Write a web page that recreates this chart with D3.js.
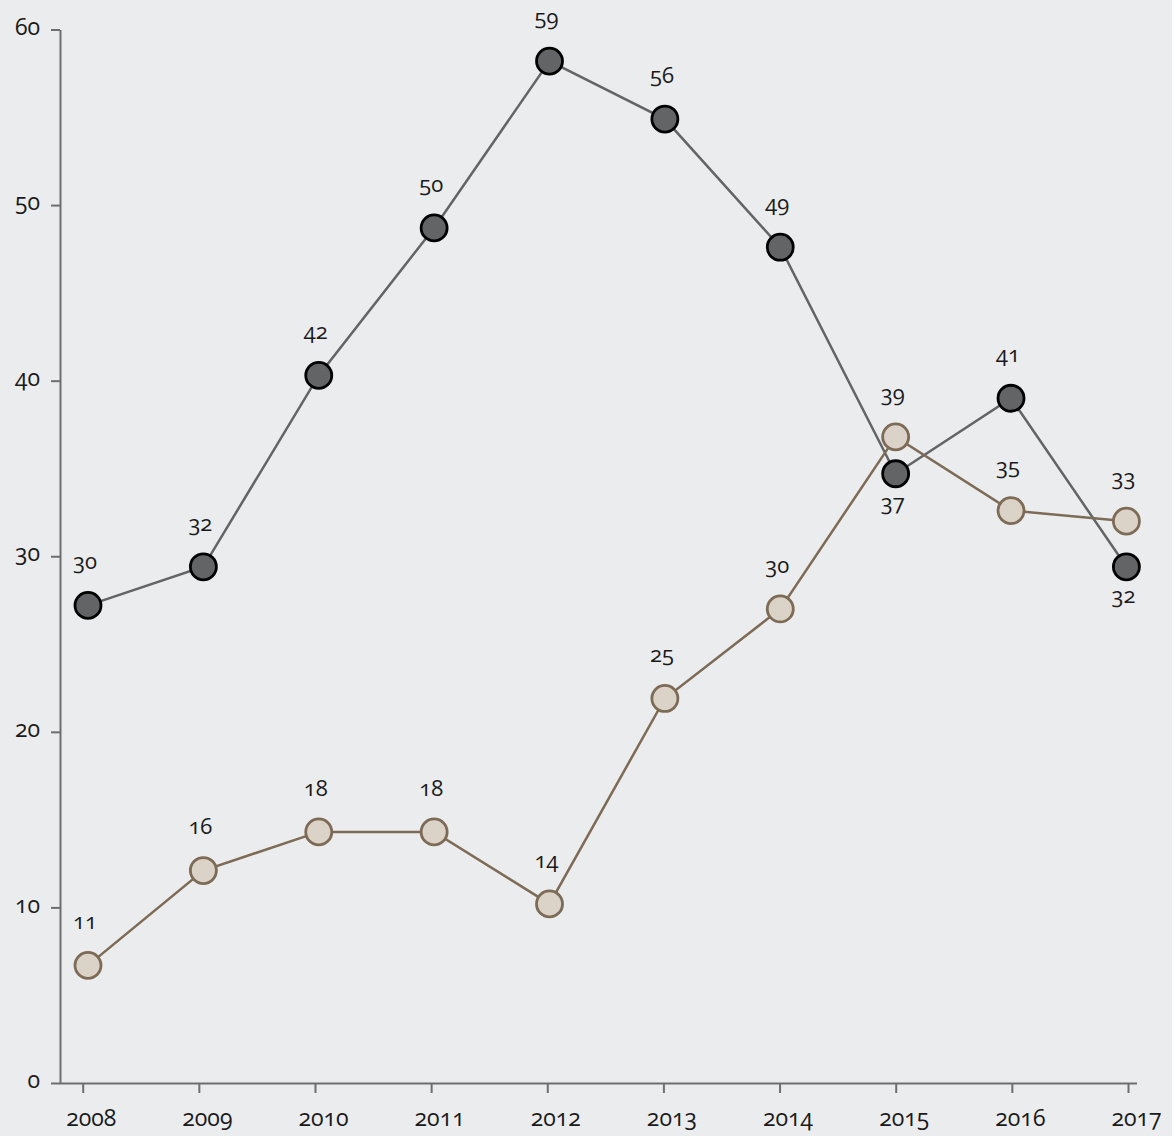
<!DOCTYPE html>
<html>
<head>
<meta charset="utf-8">
<script src="https://cdn.jsdelivr.net/npm/d3@7"></script>
<style>
  html, body { margin: 0; padding: 0; background: #ebecee; }
  svg { display: block; }
  text { font-family: "Open Sans", "Lato", sans-serif; font-variant-numeric: oldstyle-nums; font-feature-settings: "onum" 1; fill: #1a1a1a; }
</style>
</head>
<body>
<svg id="chart" width="1172" height="1136"></svg>
<script>
const years = ["2008","2009","2010","2011","2012","2013","2014","2015","2016","2017"];
const yTicks = [0, 10, 20, 30, 40, 50, 60];

const darkValues = [27.2, 29.4, 40.3, 48.7, 58.2, 54.9, 47.6, 34.7, 39.0, 29.4];
const darkLabels = ["30","32","42","50","59","56","49","37","41","32"];
const darkLabelSide = ["above","above","above","above","above","above","above","below","above","below"];

const lightValues = [6.7, 12.1, 14.3, 14.3, 10.2, 21.9, 27.0, 36.8, 32.6, 32.0];
const lightLabels = ["11","16","18","18","14","25","30","39","35","33"];
const lightLabelSide = ["above","above","above","above","above","above","above","above","above","above"];

const svg = d3.select("#chart");

const y = d3.scaleLinear().domain([0, 60]).range([1083, 29.5]);
const xTick = d3.scalePoint().domain(years).range([82.7, 1128]);
const xPt = d3.scalePoint().domain(years).range([88, 1126.4]);

// axes
const axisColor = "#6d6e70";
const yAxis = svg.append("g").attr("transform", `translate(60,0)`)
  .call(d3.axisLeft(y).tickValues(yTicks).tickSize(9).tickSizeOuter(0).tickPadding(11));
yAxis.select(".domain").attr("stroke", axisColor).attr("stroke-width", 2);
yAxis.selectAll(".tick line").attr("stroke", axisColor).attr("stroke-width", 2);
yAxis.selectAll(".tick text").attr("font-size", 23).attr("fill", "#1a1a1a").attr("dy", "0.2em");

const xAxis = svg.append("g").attr("transform", `translate(0,1083)`)
  .call(d3.axisBottom(xTick).tickSize(10).tickSizeOuter(0).tickPadding(17));
xAxis.select(".domain").attr("d", "M60,0.5H1137").attr("stroke", axisColor).attr("stroke-width", 2);
xAxis.selectAll(".tick line").attr("stroke", axisColor).attr("stroke-width", 2);
xAxis.selectAll(".tick text").attr("font-size", 23).attr("fill", "#1a1a1a").attr("dx", 8);

function drawSeries(values, labels, sides, lineColor, fill, stroke) {
  const pts = years.map((yr, i) => ({ yr, v: values[i], label: labels[i], side: sides[i] }));
  const line = d3.line().x(d => xPt(d.yr)).y(d => y(d.v));
  svg.append("path").datum(pts).attr("d", line)
    .attr("fill", "none").attr("stroke", lineColor).attr("stroke-width", 2.5);
  svg.append("g").selectAll("circle").data(pts).join("circle")
    .attr("cx", d => xPt(d.yr)).attr("cy", d => y(d.v)).attr("r", 13)
    .attr("fill", fill).attr("stroke", stroke).attr("stroke-width", 2.8);
  return pts;
}

const darkPts = drawSeries(darkValues, darkLabels, darkLabelSide, "#636466", "#636466", "#000000");
const lightPts = drawSeries(lightValues, lightLabels, lightLabelSide, "#7d6b56", "#dbd2c8", "#7d6b56");

function drawLabels(pts) {
  svg.append("g").selectAll("text").data(pts).join("text")
    .attr("x", d => xPt(d.yr) - 3)
    .attr("y", d => y(d.v) + (d.side === "above" ? -42 : 30))
    .attr("text-anchor", "middle")
    .attr("dominant-baseline", "middle")
    .attr("font-size", 22)
    .text(d => d.label);
}
drawLabels(darkPts);
drawLabels(lightPts);
</script>
</body>
</html>
